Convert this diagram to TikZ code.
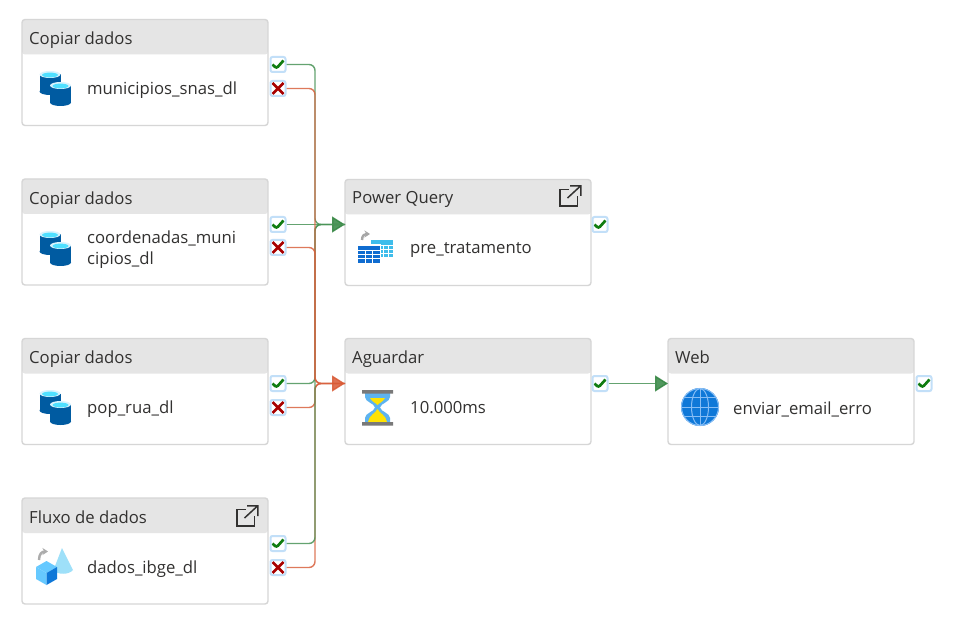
\documentclass[tikz,border=0pt]{standalone}
\usepackage{fontspec}
\setmainfont{Open Sans}
\usetikzlibrary{arrows.meta, positioning}
\definecolor{okgreen}{HTML}{107C10}
\definecolor{nored}{HTML}{A80000}
\definecolor{okline}{HTML}{4A9457}
\definecolor{noline}{HTML}{D9623F}
\definecolor{okhead}{HTML}{338541}
\definecolor{nohead}{HTML}{D95A35}
\definecolor{headgray}{HTML}{E5E5E5}
\definecolor{cardline}{HTML}{D6D6D6}
\definecolor{inktext}{HTML}{323130}
\definecolor{dbblue}{HTML}{005BA1}
\definecolor{dbtop}{HTML}{50E0FF}
\definecolor{glow}{HTML}{C2DFF8}
\definecolor{tblfront}{HTML}{0F6CD0}
\definecolor{tblback}{HTML}{3FBDEB}
\definecolor{glassblue}{HTML}{5DB3F0}
\definecolor{globeblue}{HTML}{0F78D8}
\definecolor{globeline}{HTML}{86BDF5}
\tikzset{
>={Triangle[length=13pt,width=16pt]},
node distance=159.5pt, % vertical step between the cards on the left
card/.style={draw=cardline, line width=1.4pt, fill=white, rounded corners=3pt,
  minimum width=246pt, minimum height=106pt, inner sep=0pt,
  path picture={\fill[headgray] (path picture bounding box.north west) rectangle ([yshift=-35pt]path picture bounding box.north east);}},
title/.style={anchor=west, inner sep=0pt, text=inktext, font=\fontsize{16.7}{20}\selectfont},
label/.style={anchor=west, inner sep=0pt, align=left, text=inktext, font=\fontsize{16.7}{21}\selectfont},
badge/.style={draw=glow, line width=2pt, fill=white, rounded corners=2pt,
  minimum size=15pt, inner sep=0pt},
okbadge/.style={badge, path picture={\draw[okgreen, line width=2.7pt]
  ([shift={(-5.5,0)}]path picture bounding box.center) -- ([shift={(-1.5,3.8)}]path picture bounding box.center) -- ([shift={(5.5,-4)}]path picture bounding box.center);}},
nobadge/.style={badge, path picture={\draw[nored, line width=2.8pt]
  ([shift={(-5.5,-5.5)}]path picture bounding box.center) -- ([shift={(5.5,5.5)}]path picture bounding box.center)
  ([shift={(-5.5,5.5)}]path picture bounding box.center) -- ([shift={(5.5,-5.5)}]path picture bounding box.center);}},
okedge/.style={okline, line width=1.4pt, opacity=.85, rounded corners=6pt, >={Triangle[length=13pt,width=16pt,color=okhead]}},
noedge/.style={noline, line width=1.4pt, opacity=.85, rounded corners=6pt, >={Triangle[length=13pt,width=16pt,color=nohead]}},
% icons, origin at their top left corner
dbcan/.pic={
  \fill[dbblue] (0,3.5) rectangle (21,20.5);
  \fill[dbblue] (10.5,20.5) ellipse (10.5 and 3.5);
  \fill[white!85!cyan] (10.5,3.5) ellipse (10.5 and 3.5);
  \fill[dbtop] (10.5,4) ellipse (8 and 2.4);
},
dbicon/.pic={
  \pic at (0,0) {dbcan};
  \pic at (10.5,11) {dbcan};
},
extlink/.pic={
  \draw[inktext, line width=1.5pt] (9,4.5) -- (0,4.5) -- (0,21) -- (17.5,21) -- (17.5,11);
  \draw[inktext, line width=1.5pt] (7.5,13) -- (20.5,1) (10,.8) -- (20.8,.8) -- (20.8,11);
},
pqicon/.pic={
  \draw[gray!70, line width=2.4pt, -{Stealth[length=5.5pt,width=7pt]}] (4,8) .. controls (4,3) and (7,2) .. (12,2);
  \fill[tblback] (13,8) rectangle (35,25);
  \draw[white, line width=.8pt] (21,13) rectangle (35,25) (25.5,13) -- (25.5,25) (30,13) -- (30,25) (21,17) -- (35,17) (21,21) -- (35,21);
  \fill[white] (13,12) rectangle (23,27);
  \fill[tblfront] (0,14) rectangle (22,31);
  \draw[white, line width=1pt] (0,19) -- (22,19) (0,23) -- (22,23) (0,27) -- (22,27) (7,19) -- (7,31) (14.5,19) -- (14.5,31);
},
sandglass/.pic={
  \fill[glassblue] (3,3) -- (28,3) -- (28,7) .. controls (28,12) and (19,13) .. (18,17.5)
    .. controls (19,22) and (28,23) .. (28,28) -- (28,32) -- (3,32) -- (3,28)
    .. controls (3,23) and (12,22) .. (13,17.5) .. controls (12,13) and (3,12) .. (3,7) -- cycle;
  \fill[yellow!85!orange] (8,8) -- (23,8) .. controls (21,12) and (17,13) .. (15.5,15) .. controls (14,13) and (10,12) .. (8,8) -- cycle;
  \fill[yellow!85!orange] (15.5,19) .. controls (17,23) and (24,25) .. (25,32) -- (6,32) .. controls (7,25) and (14,23) .. (15.5,19) -- cycle;
  \fill[gray!95!black] (0,0) rectangle (31,3.5) (0,32) rectangle (31,35.5);
},
globe/.pic={
  \fill[globeblue] (0,0) circle (19);
  \begin{scope}[draw=globeline, line width=1pt]
    \draw (0,0) circle (18.5);
    \draw (0,0) ellipse (8.5 and 18.5);
    \draw (0,-18.5) -- (0,18.5) (-18.5,0) -- (18.5,0) (-15,-9.5) -- (15,-9.5) (-15,9.5) -- (15,9.5);
  \end{scope}
},
flowicon/.pic={
  \draw[gray!65, line width=2.4pt, -{Stealth[length=5.5pt,width=7pt]}] (3,12) .. controls (3,6) and (6,3.5) .. (12,3.5);
  \fill[cyan!38] (26,0) -- (17.5,22) .. controls (21,27) and (33,27) .. (37,22) -- cycle;
  \fill[blue!35!cyan!60] (10.5,13) -- (21,19) -- (10.5,25) -- (0,19) -- cycle;
  \fill[blue!35!cyan!60] (0,19) -- (10.5,25) -- (10.5,37) -- (0,31) -- cycle;
  \fill[globeblue] (21,19) -- (10.5,25) -- (10.5,37) -- (21,31) -- cycle;
},
}

\begin{document}
\begin{tikzpicture}[x=1pt, y=-1pt]
        \useasboundingbox[fill=white] (0,0) rectangle (956,628);

        \node[card] (cop1) at (145,72.5) {};
        \node[card, below of=cop1] (cop2) {};
        \node[card, below of=cop2] (cop3) {};
        \node[card, below of=cop3] (flow) {};
        \node[card] (pq) at (468,232.5) {};
        \node[card] (wait) at (468,391.5) {};
        \node[card] (web) at (791,391.5) {};

        \node[title] (t1) at (29,40) {Copiar dados};
        \node[title] (t2) at (29,200) {Copiar dados};
        \node[title] (t3) at (29,359) {Copiar dados};
        \node[title] (t4) at (29,517.5) {Fluxo de dados};
        \node[title] (t5) at (352,199.5) {Power Query};
        \node[title] (t6) at (352,359) {Aguardar};
        \node[title] (t7) at (675,357) {Web};

        \node[label] (n1) at (87,90) {municipios\_snas\_dl};
        \node[label] (n2) at (87,249.5) {coordenadas\_muni\\cipios\_dl};
        \node[label] (n3) at (87,409) {pop\_rua\_dl};
        \node[label] (n4) at (87,569) {dados\_ibge\_dl};
        \node[label] (n5) at (410,250) {pre\_tratamento};
        \node[label] (n6) at (410,408) {10.000ms};
        \node[label] (n7) at (733,409) {enviar\_email\_erro};

        \pic at (39.5,71) {dbicon};
        \pic at (39.5,231) {dbicon};
        \pic at (39.5,390) {dbicon};
        \pic at (36,548) {flowicon};
        \pic at (358,232) {pqicon};
        \pic at (362,390) {sandglass};
        \pic at (700,407) {globe};
        \pic at (237,505) {extlink};
        \pic at (560,185) {extlink};

        \node[okbadge] (ok1) at (278,64.5) {};
        \node[nobadge] (no1) at (278,88.5) {};
        \node[okbadge] (ok2) at (278,224.5) {};
        \node[nobadge] (no2) at (278,247.5) {};
        \node[okbadge] (ok3) at (278,383.5) {};
        \node[nobadge] (no3) at (278,407.5) {};
        \node[okbadge] (ok4) at (278,543.5) {};
        \node[nobadge] (no4) at (278,567.5) {};
        \node[okbadge] (ok5) at (600,224.5) {};
        \node[okbadge] (ok6) at (600,383.5) {};
        \node[okbadge] (ok7) at (924,383.5) {};

        \coordinate (bus) at (315,0);
        \coordinate (pqin) at (345,224.5);
        \coordinate (waitin) at (345,383.5);
        \coordinate (webin) at (668,383.5);

        % order matters: red over green above the Aguardar arrow, green over red below it
        \draw[noedge] (no3.east) -- (bus |- no3.east) -- (bus |- waitin) -- (waitin);
        \draw[noedge] (no4.east) -- (bus |- no4.east) -- (bus |- waitin) -- (waitin);
        \draw[okedge] (ok1.east) -- (bus |- ok1.east) -- (bus |- pqin) -- (pqin);
        \draw[okedge, ->] (ok2.east) -- (pqin);
        \draw[okedge] (ok3.east) -- (bus |- ok3.east) -- (bus |- pqin) -- (pqin);
        \draw[okedge] (ok4.east) -- (bus |- ok4.east) -- (bus |- pqin) -- (pqin);
        \draw[noedge] (no1.east) -- (bus |- no1.east) -- (bus |- waitin) -- (waitin);
        \draw[noedge, ->] (no2.east) -- (bus |- no2.east) -- (bus |- waitin) -- (waitin);
        \draw[okedge, ->] (ok6.east) -- (webin);
    \end{tikzpicture}
\end{document}
